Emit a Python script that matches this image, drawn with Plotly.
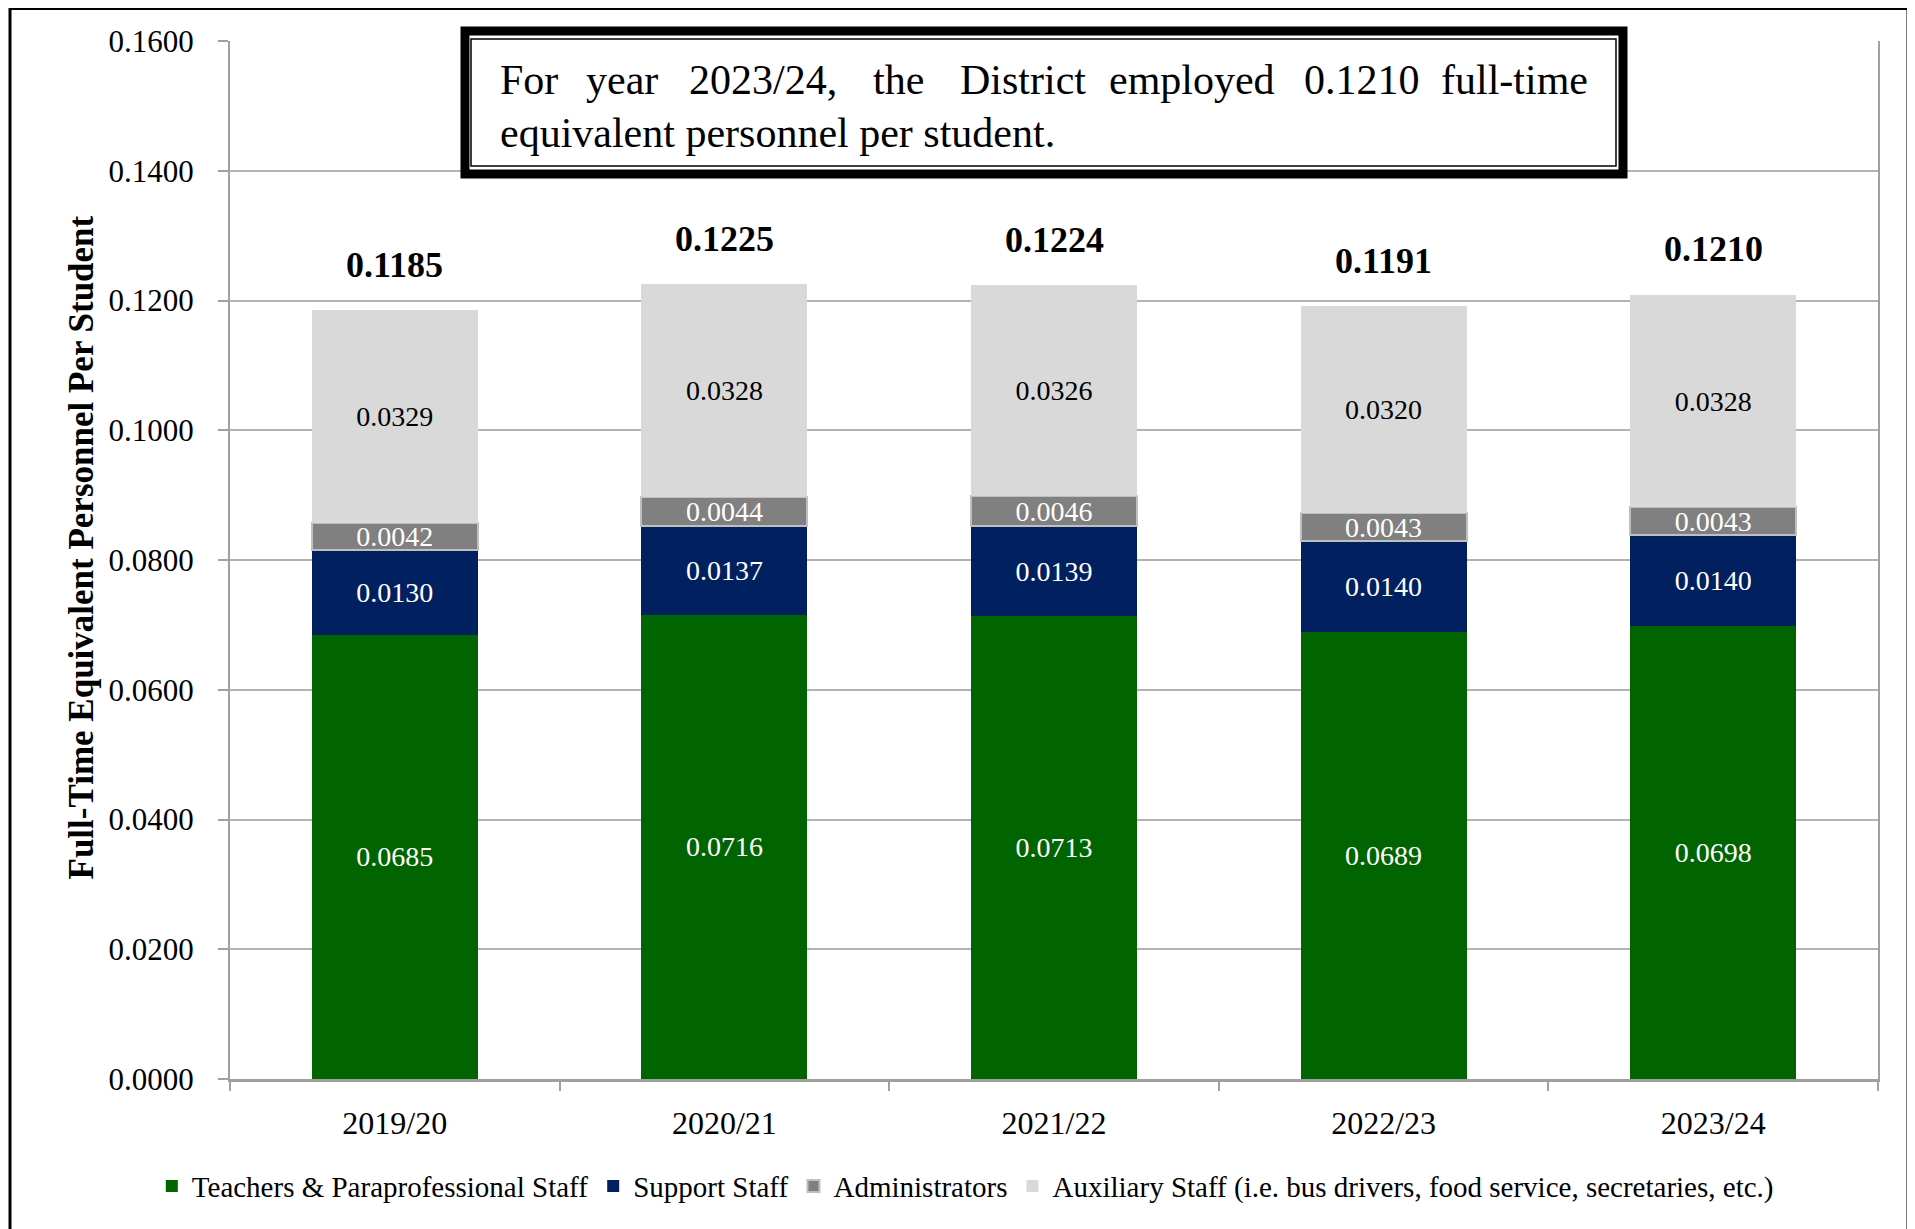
import plotly.graph_objects as go

# data
YEARS = ["2019/20", "2020/21", "2021/22", "2022/23", "2023/24"]
TEACHERS = [0.0685, 0.0716, 0.0713, 0.0689, 0.0698]
SUPPORT = [0.0130, 0.0137, 0.0139, 0.0140, 0.0140]
ADMINS = [0.0042, 0.0044, 0.0046, 0.0043, 0.0043]
AUXILIARY = [0.0329, 0.0328, 0.0326, 0.0320, 0.0328]
TOTALS = [0.1185, 0.1225, 0.1224, 0.1191, 0.1210]
Y_TICKS = [0.0, 0.02, 0.04, 0.06, 0.08, 0.10, 0.12, 0.14, 0.16]

SERIF = "Liberation Serif, Times New Roman, serif"

# the page body adds an 8px offset, so the figure is a little smaller
OFF = 8
W, H = 1915 - OFF, 1229 - OFF
L, T = 230 - OFF, 41 - OFF
R = W - (1878 - OFF)
B = H - (1079 - OFF)


def fx(px):
    """reference pixel x -> paper x"""
    return (px - OFF - L) / (W - L - R)


def fy(py):
    """reference pixel y -> paper y"""
    return (H - B - (py - OFF)) / (H - T - B)


series = [
    ("Teachers & Paraprofessional Staff", TEACHERS, "#006400", "white", 0, None),
    ("Support Staff", SUPPORT, "#002060", "white", 0, None),
    ("Administrators", ADMINS, "#808080", "white", 2, "#bfbfbf"),
    ("Auxiliary Staff (i.e. bus drivers, food service, secretaries, etc.)",
     AUXILIARY, "#d9d9d9", "black", 0, None),
]

fig = go.Figure()

for name, vals, color, txtcolor, lw, lc in series:
    fig.add_trace(go.Bar(
        x=YEARS,
        y=vals,
        name=name,
        marker=dict(color=color, line=dict(width=lw, color=lc or color)),
        text=[f"{v:.4f}" for v in vals],
        textposition="inside",
        insidetextanchor="middle",
        textangle=0,
        constraintext="none",
        insidetextfont=dict(family=SERIF, size=28, color=txtcolor),
    ))

annotations = []

# totals above bars
for yr, tot in zip(YEARS, TOTALS):
    annotations.append(dict(
        x=yr, y=tot, xref="x", yref="y",
        text=f"<b>{tot:.4f}</b>", showarrow=False,
        yanchor="bottom", yshift=23,
        font=dict(family=SERIF, size=36, color="black"),
    ))

# y axis title
annotations.append(dict(
    x=fx(59), y=fy(548), xref="paper", yref="paper",
    text="<b>Full-Time Equivalent Personnel Per Student</b>",
    textangle=-90, showarrow=False,
    font=dict(family=SERIF, size=35, color="black"),
))

# justified call-out text, first line word by word
words = ["For", "year", f"{YEARS[-1]},", "the", "District", "employed",
         f"{TOTALS[-1]:.4f}", "full-time"]
word_x = [498, 622, 763, 898, 1023, 1192, 1362, 1590]
for i, (w, xp) in enumerate(zip(words, word_x)):
    anchor = "left" if i == 0 else ("right" if i == len(words) - 1 else "center")
    annotations.append(dict(
        x=fx(xp), y=fy(80), xref="paper", yref="paper", text=w,
        showarrow=False, xanchor=anchor, yanchor="middle",
        font=dict(family=SERIF, size=42, color="black"),
    ))
annotations.append(dict(
    x=fx(498), y=fy(133), xref="paper", yref="paper",
    text="equivalent personnel per student.",
    showarrow=False, xanchor="left", yanchor="middle",
    font=dict(family=SERIF, size=42, color="black"),
))

shapes = [
    # outer chart border
    dict(type="rect", xref="paper", yref="paper",
         x0=fx(10), x1=fx(1908), y0=fy(1250), y1=fy(8.5),
         line=dict(color="black", width=3)),
    # call-out box, double border
    dict(type="rect", xref="paper", yref="paper", layer="above",
         x0=fx(465), x1=fx(1623), y0=fy(174), y1=fy(31),
         line=dict(color="black", width=9), fillcolor="white"),
    dict(type="rect", xref="paper", yref="paper", layer="above",
         x0=fx(471), x1=fx(1616), y0=fy(166), y1=fy(39),
         line=dict(color="black", width=1.5)),
]

fig.update_layout(
    barmode="stack",
    bargap=0.496,
    width=W, height=H,
    margin=dict(l=L, r=R, t=T, b=B, autoexpand=False),
    paper_bgcolor="white",
    plot_bgcolor="white",
    font=dict(family=SERIF, size=30, color="black"),
    annotations=annotations,
    shapes=shapes,
    legend=dict(
        orientation="h",
        traceorder="normal",
        xref="container", yref="container",
        x=0.502, xanchor="center",
        y=0.035, yanchor="middle",
        font=dict(family=SERIF, size=29, color="black"),
        itemwidth=30,
    ),
    showlegend=True,
)

fig.update_xaxes(
    type="category",
    tickson="boundaries",
    ticks="outside", ticklen=9, tickwidth=1.5, tickcolor="#a0a0a0",
    showline=True, linecolor="#a0a0a0", linewidth=3,
    showgrid=False,
    tickfont=dict(family=SERIF, size=32, color="black"),
    ticklabelstandoff=14,
)

fig.update_yaxes(
    range=[0, 0.16],
    tickvals=Y_TICKS,
    tickformat=".4f",
    ticks="outside", ticklen=10, tickwidth=1.5, tickcolor="#a0a0a0",
    showline=True, linecolor="#a0a0a0", linewidth=2, mirror=True,
    showgrid=True, gridcolor="#b3b3b3", gridwidth=1.5,
    zeroline=False,
    tickfont=dict(family=SERIF, size=31, color="black"),
    ticklabelstandoff=18,
)

fig.write_html("out.html")
